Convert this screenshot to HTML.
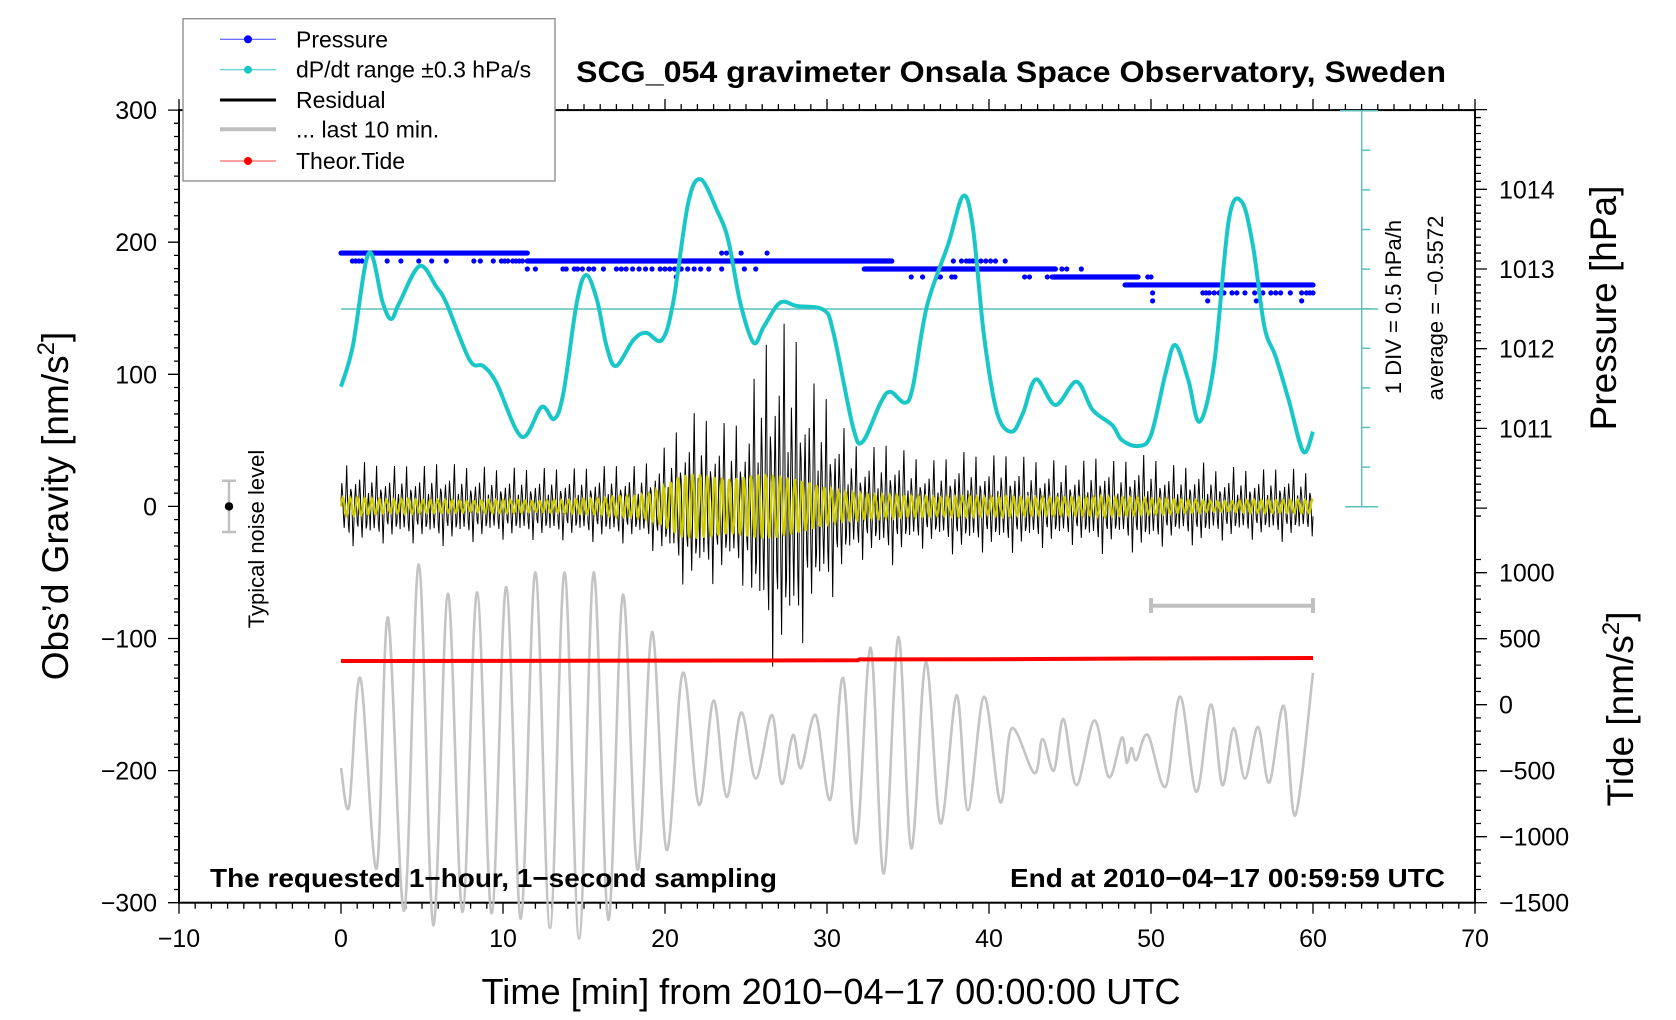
<!DOCTYPE html>
<html><head><meta charset="utf-8"><title>SCG_054 gravimeter</title>
<style>
html,body{margin:0;padding:0;background:#fff;}
svg{display:block;font-family:"Liberation Sans",Arial,sans-serif;}
</style></head>
<body>
<svg id="chart" width="1676" height="1020" viewBox="0 0 1676 1020" xmlns="http://www.w3.org/2000/svg">
<rect x="0" y="0" width="1676" height="1020" fill="#fff"/>
<g id="axes"></g>
<g id="series"></g>
<g id="labels"></g>
</svg>
<script>
// ---- data ----
const grayT = [0,0.5,1.2,2.2,2.9,3.9,4.8,5.7,6.6,7.5,8.4,9.3,10.2,11.1,12.0,12.9,13.8,14.7,15.6,16.5,17.4,18.3,19.2,20.1,21.1,22.1,23.0,23.8,24.7,25.6,26.6,27.2,27.9,28.4,29.3,30.2,31.0,31.8,32.7,33.5,34.4,35.2,36.1,37.0,38.0,38.7,39.7,40.7,41.4,42.8,43.3,44.0,44.6,45.4,46.5,47.4,48.2,48.5,48.8,49.1,49.8,50.9,51.8,52.8,53.7,54.4,55.1,55.8,56.6,57.3,58.2,58.9,60];
const grayV = [-198,-227,-130,-274,-84,-306,-44,-317,-66,-307,-65,-308,-61,-312,-50,-319,-50,-327,-50,-313,-67,-275,-95,-260,-126,-226,-147,-220,-156,-206,-158,-210,-173,-198,-158,-222,-130,-255,-107,-278,-99,-259,-118,-240,-143,-230,-144,-224,-168,-202,-176,-200,-161,-211,-162,-205,-175,-194,-183,-192,-173,-212,-144,-216,-150,-211,-168,-206,-167,-209,-151,-234,-126];
const cyanT = [0,0.72,1.71,2.58,3.1,3.6,4.85,5.88,6.5,7.94,8.77,9.6,11.15,12.38,13.15,13.73,14.55,15.13,15.8,16.4,16.98,18.05,18.83,19.8,20.5,21.43,22.2,23.2,23.9,24.65,25.47,26.1,27.1,28.15,29.8,30.4,31.6,32.2,33.3,33.9,34.8,35.3,36.16,37.5,38.4,39.0,39.7,40.5,41.4,42.1,42.9,44.1,45.4,46.4,47.6,48.2,49.2,50.0,50.9,51.5,52.3,53.0,53.9,54.8,55.6,56.3,57.0,57.7,58.5,59.4,60];
const cyanV = [-1.538,-1.033,0.146,-0.481,-0.683,-0.481,-0.014,-0.276,-0.481,-1.201,-1.277,-1.492,-2.170,-1.795,-1.946,-1.618,-0.481,-0.128,-0.444,-1.033,-1.277,-0.949,-0.856,-0.949,-0.481,0.781,1.080,0.693,0.314,-0.481,-0.983,-0.781,-0.478,-0.519,-0.570,-0.860,-2.043,-2.233,-1.744,-1.601,-1.740,-1.538,-0.528,0.272,0.869,0.482,-0.907,-1.870,-2.106,-1.870,-1.445,-1.769,-1.475,-1.832,-2.022,-2.211,-2.287,-2.148,-1.369,-1.012,-1.454,-1.980,-1.243,0.566,0.797,0.229,-0.781,-1.160,-1.706,-2.359,-2.106];
const cyanAverage = -0.5572;
const tideT = [0,10,20,31.9,32,40,50,60];
const tideV = [331,332,334,336,343,345,350,354];
const runStart = [0,11.5,32.3,43.9,48.4];
const runEnd = [11.5,34.0,44.1,49.2,60];
const runLevel = [1013.2,1013.1,1013.0,1012.9,1012.8];
const dots1013_2 = [23.5,23.8,24.7,26.3];
const dots1013_1 = [0.7,0.9,1.1,1.3,2.85,3.7,4.8,5.6,6.5,8.2,8.6,9.4,9.9,10.1,10.3,10.6,10.8,11.0,11.2,37.8,38.3,38.6,38.8,39.0,39.2,39.5,39.8,40.1,40.4,41.0];
const dots1013_0 = [11.5,12.0,13.7,13.9,14.4,14.6,14.9,15.3,15.6,16.2,17.0,17.3,17.6,18.0,18.4,18.8,19.2,19.7,20.0,20.3,20.6,21.0,21.4,21.8,22.2,22.7,23.5,24.9,25.6,44.5,44.8,45.7];
const dots1012_9 = [20.7,35.2,35.9,36.8,37.0,37.7,37.9,42.2,42.5,43.6,49.8,50.0];
const dots1012_7 = [50.1,53.2,53.4,53.6,53.9,54.2,54.5,55.0,55.3,55.8,56.4,56.9,57.4,57.7,58.0,58.6,59.3,59.6,59.8,60];
const dots1012_6 = [50.1,53.5,56.5,59.3];
const resAmp = [32,34,33,30,32,30,34,32,30,30,28,30,28,30,28,30,30,32,30,35,45,65,72,65,62,68,125,140,135,95,85,60,45,45,50,40,35,35,42,40,38,40,38,35,35,32,35,40,32,40,38,32,30,35,28,30,28,28,30,28,25];
const yelAmp = [7,7,6,5,6,5,5,5,4,5,5,5,4,5,5,6,6,8,8,10,16,24,25,23,21,23,25,24,21,18,14,11,10,9,9,8,8,7,8,8,7,8,7,7,7,7,7,8,7,7,6,6,5,5,4,4,5,5,5,5,5];
const shapeB = [0.1,0.55,0.3,-0.2,-0.5,-0.15,0.35,0.95,0.2,-0.4,-0.6,0.05,0.4,0.3,-0.25,-0.9,-0.3,0.2,0.5,0.1,-0.35,-0.45,0.15,0.6,0.25,-0.3,-0.7,-0.2,0.45,1,0.3,-0.5,-0.4,0.05,0.3,-0.1,-0.55];
const shapeY = [0,0.64,0.98,0.87,0.34,-0.34,-0.87,-0.98,-0.64];
const xTicks = [-10,0,10,20,30,40,50,60,70];
const yTicks = [300,200,100,0,-100,-200,-300];
const pTicks = [1014,1013,1012,1011];
const tTicks = [1000,500,0,-500,-1000,-1500];

// ---- scales ----
const X0=179, X1=1475, Y0=110.1, Y1=902.7;
const xS = t => 179 + (t+10)*16.2;
const yL = v => 506.4 - v*1.321;
const yP = p => 189.3 + (1014-p)*79.7;
const yT = v => 704.7 - v*0.132;
const yC = d => 309 - (d - cyanAverage)*79.2;
const NS='http://www.w3.org/2000/svg';
function mk(tag, attrs, parent){const e=document.createElementNS(NS,tag);for(const k in attrs)e.setAttribute(k,attrs[k]);parent.appendChild(e);return e;}
const gA=document.getElementById('axes'), gS=document.getElementById('series'), gL=document.getElementById('labels');
function smooth(pts){let d='M'+pts[0][0].toFixed(1)+','+pts[0][1].toFixed(1);
 for(let i=0;i<pts.length-1;i++){const p0=pts[Math.max(0,i-1)],p1=pts[i],p2=pts[i+1],p3=pts[Math.min(pts.length-1,i+2)];
  const c1=[p1[0]+(p2[0]-p0[0])/6,p1[1]+(p2[1]-p0[1])/6],c2=[p2[0]-(p3[0]-p1[0])/6,p2[1]-(p3[1]-p1[1])/6];
  d+=' C'+c1[0].toFixed(1)+','+c1[1].toFixed(1)+' '+c2[0].toFixed(1)+','+c2[1].toFixed(1)+' '+p2[0].toFixed(1)+','+p2[1].toFixed(1);}
 return d;}
function interp(arr,t){const i=Math.min(Math.floor(t),arr.length-2);const f=t-i;return arr[i]*(1-f)+arr[i+1]*f;}

let el=mk('rect',{x:X0,y:Y0,width:X1-X0,height:Y1-Y0,fill:'none',stroke:'#000','stroke-width':2},gA);


let tk='';
for(let t=-10;t<=70;t++){const x=xS(t),L=(t%10===0)?11:6;tk+=`M${x},${Y1}v${L}M${x},${Y0}v${-L}`;}
el=mk('path',{d:tk,stroke:'#000','stroke-width':1.3,fill:'none'},gA);


xTicks.forEach(t=>{const e=mk('text',{x:xS(t),y:947,'font-size':25,'text-anchor':'middle'},gL);e.textContent=(t<0?'\u2212':'')+Math.abs(t);
 
 });
tk='';
for(let v=-300;v<=300;v+=10){const y=yL(v),L=(v%100===0)?11:5;tk+=`M${X0},${y}h${-L}`;}
el=mk('path',{d:tk,stroke:'#000','stroke-width':1.3,fill:'none'},gA);


yTicks.forEach(v=>{const e=mk('text',{x:157,y:yL(v)+9,'font-size':25,'text-anchor':'end'},gL);e.textContent=(v<0?'\u2212':'')+Math.abs(v);
 
 });
tk='';
for(let i=0;i<=51;i++){const p=1015-i*0.1,y=yP(p),L=(i%10===0)?12:6;tk+=`M${X1},${y}h${L}`;}
el=mk('path',{d:tk,stroke:'#000','stroke-width':1.3,fill:'none'},gA);


pTicks.forEach(p=>{const e=mk('text',{x:1499,y:yP(p)+9,'font-size':25},gL);e.textContent=p;
 
 });
tk='';
for(let v=-1500;v<=1100;v+=100){const y=yT(v),L=(v%500===0)?12:6;tk+=`M${X1},${y}h${L}`;}
el=mk('path',{d:tk,stroke:'#000','stroke-width':1.3,fill:'none'},gA);


tTicks.forEach(v=>{const e=mk('text',{x:1499,y:yT(v)+9,'font-size':25},gL);e.textContent=(v<0?'\u2212':'')+Math.abs(v);
 
 });

let sb='M1361.7,110.7V506.7M1340,110.7h38M1345,506.7h33';
for(let i=1;i<10;i++){const y=110.7+i*39.6;sb+=`M1361.7,${y}h8.5`;}
el=mk('path',{d:sb,stroke:'#5fbfbf','stroke-width':1.5,fill:'none'},gS);


el=mk('line',{x1:xS(0),x2:1378,y1:yC(cyanAverage),y2:yC(cyanAverage),stroke:'#5fbfbf','stroke-width':1.5},gS);



const gP=mk('g',{fill:'#0000ff'},gS);


runLevel.forEach((p,i)=>{const e=mk('line',{x1:xS(runStart[i]),x2:xS(runEnd[i]),y1:yP(p),y2:yP(p),stroke:'#0000ff','stroke-width':5.2,'stroke-linecap':'round'},gP);
 
 });
[[dots1013_2,1013.2],[dots1013_1,1013.1],[dots1013_0,1013.0],[dots1012_9,1012.9],[dots1012_7,1012.7],[dots1012_6,1012.6]].forEach(([arr,p])=>{
 arr.forEach(t=>{const e=mk('circle',{cx:xS(t),cy:yP(p),r:2.6},gP);
  
  });});

el=mk('path',{d:smooth(cyanT.map((t,i)=>[xS(t),yC(cyanV[i])])),stroke:'#19c7c7','stroke-width':4,fill:'none','stroke-linejoin':'round'},gS);



el=mk('path',{d:smooth(grayT.map((t,i)=>[xS(t),yL(grayV[i])])),stroke:'#c4c4c4','stroke-width':2.6,fill:'none'},gS);



let dB='',dY='';
for(let i=0;i<=1200;i++){const t=i*0.05;const vb=interp(resAmp,t)*shapeB[i%shapeB.length];const vy=interp(yelAmp,t)*shapeY[i%shapeY.length];
 dB+=(i?'L':'M')+xS(t).toFixed(1)+','+yL(vb).toFixed(1);dY+=(i?'L':'M')+xS(t).toFixed(1)+','+yL(vy).toFixed(1);}
el=mk('path',{d:dB,stroke:'#000','stroke-width':1,fill:'none'},gS);


el=mk('path',{d:dY,stroke:'#cccc00','stroke-width':2.2,fill:'none'},gS);



el=mk('path',{d:'M'+tideT.map((t,i)=>xS(t).toFixed(1)+','+yT(tideV[i]).toFixed(1)).join('L'),stroke:'#ff0000','stroke-width':4,fill:'none'},gS);



el=mk('path',{d:`M${xS(50)},605.7H${xS(60)}M${xS(50)},598V613M${xS(60)},598V613`,stroke:'#c0c0c0','stroke-width':4,fill:'none'},gS);



el=mk('path',{d:'M229,480.7V532M222,480.7h14M222,532h14',stroke:'#c0c0c0','stroke-width':2.5,fill:'none'},gS);


el=mk('circle',{cx:229,cy:506.4,r:4.2,fill:'#000'},gS);


</script>
<script>
(function(){
const NS='http://www.w3.org/2000/svg';const svg=document.getElementById('chart');
function tx(str,attrs,name){const e=document.createElementNS(NS,'text');for(const k in attrs)e.setAttribute(k,attrs[k]);e.textContent=str;svg.appendChild(e);
 
 return e;}
tx('SCG_054 gravimeter Onsala Space Observatory, Sweden',{x:576,y:82,'font-size':30,'font-weight':'bold',textLength:870,lengthAdjust:'spacingAndGlyphs'},'chart-title');
tx('Time [min] from 2010\u221204\u221217 00:00:00 UTC',{x:831,y:1004,'font-size':36,'text-anchor':'middle',textLength:699,lengthAdjust:'spacingAndGlyphs'},'x-axis-title');
tx('The requested 1\u2212hour, 1\u2212second sampling',{x:210,y:887,'font-size':26,'font-weight':'bold',textLength:567,lengthAdjust:'spacingAndGlyphs'},'sampling-note');
tx('End at 2010\u221204\u221217 00:59:59 UTC',{x:1445,y:887,'font-size':26,'font-weight':'bold','text-anchor':'end',textLength:435,lengthAdjust:'spacingAndGlyphs'},'end-time-note');
let e=tx('',{transform:'translate(68,506) rotate(-90)','font-size':37,'text-anchor':'middle'},'y-axis-title');
e.innerHTML='Obs\u2019d Gravity [nm/s<tspan font-size="24" dy="-14">2</tspan><tspan dy="14">]</tspan>';
tx('Pressure [hPa]',{transform:'translate(1616,308) rotate(-90)','font-size':37,'text-anchor':'middle'},'pressure-axis-title');
e=tx('',{transform:'translate(1633,709) rotate(-90)','font-size':37,'text-anchor':'middle'},'tide-axis-title');
e.innerHTML='Tide [nm/s<tspan font-size="24" dy="-14">2</tspan><tspan dy="14">]</tspan>';
tx('Typical noise level',{transform:'translate(264,539) rotate(-90)','font-size':22,'text-anchor':'middle'},'noise-level-label');
tx('1 DIV = 0.5 hPa/h',{transform:'translate(1401,307) rotate(-90)','font-size':22,'text-anchor':'middle'},'dpdt-scale-label');
tx('average = \u22120.5572',{transform:'translate(1443,308) rotate(-90)','font-size':22,'text-anchor':'middle'},'dpdt-average-label');
const lg=document.createElementNS(NS,'g');svg.appendChild(lg);


const r=document.createElementNS(NS,'rect');
r.setAttribute('x',183);r.setAttribute('y',18.7);r.setAttribute('width',372);r.setAttribute('height',162.3);r.setAttribute('fill','#fff');r.setAttribute('stroke','#888');r.setAttribute('stroke-width',1.3);lg.appendChild(r);


const labels=['Pressure','dP/dt range \u00b10.3 hPa/s','Residual','... last 10 min.','Theor.Tide'];
const cols=['#4040ff','#30c8c8','#000','#c0c0c0','#ff4040'];
const dotc=['#0000ff','#19c7c7',null,null,'#ff0000'];
const wid=[1,1,3,4,1];
const ys=[39.3,69.7,100,129.3,161];
const names=['legend-entry-pressure','legend-entry-dpdt','legend-entry-residual','legend-entry-last-10-min','legend-entry-tide'];
labels.forEach((s,i)=>{
 const l=document.createElementNS(NS,'line');l.setAttribute('x1',220);l.setAttribute('x2',276);l.setAttribute('y1',ys[i]);l.setAttribute('y2',ys[i]);l.setAttribute('stroke',cols[i]);l.setAttribute('stroke-width',wid[i]);lg.appendChild(l);
 
 
 if(dotc[i]){const c=document.createElementNS(NS,'circle');c.setAttribute('cx',248);c.setAttribute('cy',ys[i]);c.setAttribute('r',4);c.setAttribute('fill',dotc[i]);lg.appendChild(c);
  
  }
 const t=document.createElementNS(NS,'text');t.setAttribute('x',296);t.setAttribute('y',ys[i]+8);t.setAttribute('font-size',23);t.textContent=s;lg.appendChild(t);
 
 
});
})();
</script>
</body></html>
